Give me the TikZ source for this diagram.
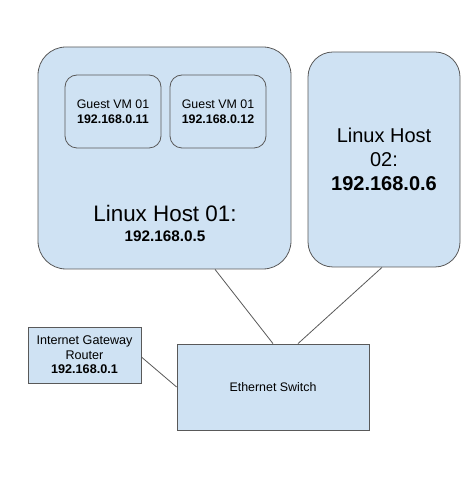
\documentclass[tikz,border=0pt]{standalone}
\usepackage{fontspec}
\setmainfont{Liberation Sans}
\usepackage{xcolor}
\usepackage{tikz}

\definecolor{boxfill}{HTML}{CFE2F3}
\definecolor{boxline}{HTML}{595959}

\begin{document}
\begin{tikzpicture}[x=1pt,y=1pt,
            box/.style = {draw=boxline,
                        line width=0.8pt,
                        fill=boxfill,
                        inner sep=0pt,
                        align=center},
            host/.style = {box,
                        rounded corners=28pt},
            vm/.style = {box,
                        rounded corners=12pt,
                        minimum width=96pt,
                        minimum height=73pt,
                        font=\fontsize{12.4}{15}\selectfont},
            link/.style = {draw=boxline,
                        line width=0.8pt}]
            \useasboundingbox (0,0) rectangle (474,487);
            % Host 01 with guests
            \node[host,minimum width=253pt,minimum height=222pt] (host01) at (164.5,329) {};
            \node[vm] (vm01) at (113,375.5) {Guest VM 01\\\textbf{192.168.0.11}};
            \node[vm] (vm02) at (218,375.5) {Guest VM 01\\\textbf{192.168.0.12}};
            \node[inner sep=0pt,font=\fontsize{22.4}{26}\selectfont] (host01name) at (165,274) {Linux Host 01:};
            \node[inner sep=0pt,font=\fontsize{15.3}{18}\selectfont\bfseries] (host01ip) at (165,251) {192.168.0.5};
            % Host 02
            \node[host,rounded corners=25pt,minimum width=152pt,minimum height=215pt,
                  font=\fontsize{20}{24}\selectfont] (host02) at (384,327.5)
                {Linux Host\\02:\\\textbf{192.168.0.6}};
            % Router
            \node[box,minimum width=113pt,minimum height=56pt,
                  font=\fontsize{12.6}{14.5}\selectfont] (router) at (84.5,132)
                {Internet Gateway\\Router\\\textbf{192.168.0.1}};
            % Switch
            \node[box,minimum width=192pt,minimum height=86pt,
                  font=\fontsize{12.4}{15}\selectfont] (switch) at (273,100) {Ethernet Switch};
            % Links
            \draw[link] ([xshift=50.5pt]host01.south) -- (switch.north);
            \draw[link] ([xshift=-2pt]host02.south) -- ([xshift=25pt]switch.north);
            \draw[link] ([yshift=-2pt]router.east) -- (switch.west);
        \end{tikzpicture}
\end{document}
